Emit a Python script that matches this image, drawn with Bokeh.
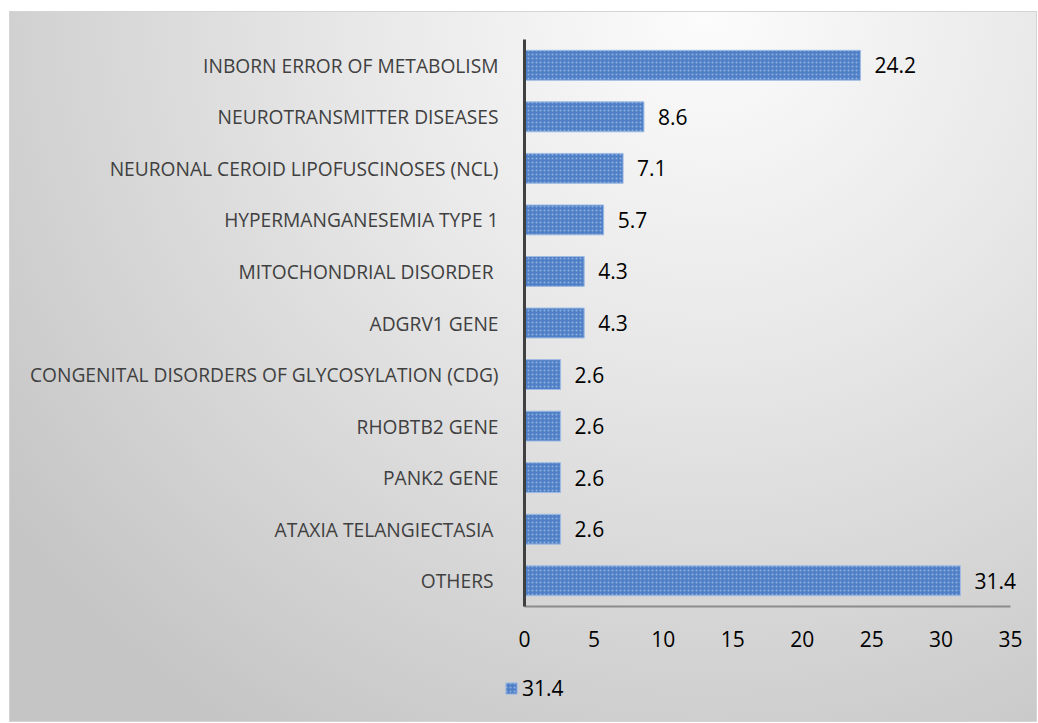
from bokeh.plotting import figure
from bokeh.models import ColumnDataSource, Range1d, Legend, LegendItem, FixedTicker
from bokeh.core.properties import value
from bokeh.embed import file_html
from bokeh.resources import INLINE

categories = [
    "INBORN ERROR OF METABOLISM",
    "NEUROTRANSMITTER DISEASES",
    "NEURONAL CEROID LIPOFUSCINOSES (NCL)",
    "HYPERMANGANESEMIA TYPE 1",
    "MITOCHONDRIAL DISORDER ",
    "ADGRV1 GENE",
    "CONGENITAL DISORDERS OF GLYCOSYLATION (CDG)",
    "RHOBTB2 GENE",
    "PANK2 GENE",
    "ATAXIA TELANGIECTASIA ",
    "OTHERS ",
]
values = [24.2, 8.6, 7.1, 5.7, 4.3, 4.3, 2.6, 2.6, 2.6, 2.6, 31.4]
value_labels = ["24.2", "8.6", "7.1", "5.7", "4.3", "4.3", "2.6", "2.6", "2.6", "2.6", "31.4"]
x_ticks = [0, 5, 10, 15, 20, 25, 30, 35]
x_max = 35
series_name = "31.4"

n = len(categories)
ypos = [n - 1 - i for i in range(n)]  # first category at top
src = ColumnDataSource(dict(y=ypos, val=values, lab=value_labels))

# ---- layout geometry (pixels, inside the figure) ----
W, H = 1026, 709
axis_px_left, axis_px_right = 514, 1000      # x = 0 and x = x_max
cat_px_top, cat_px_bottom = 27, 594          # top/bottom of the category band
xs = (axis_px_right - axis_px_left) / x_max
ys = (cat_px_bottom - cat_px_top) / n
x_start = -axis_px_left / xs
x_end = x_max + (W - axis_px_right) / xs
y_top = (n - 0.5) + cat_px_top / ys
y_bot = -0.5 - (H - cat_px_bottom) / ys

p = figure(
    width=W, height=H,
    x_range=Range1d(x_start, x_end), y_range=Range1d(y_bot, y_top),
    output_backend="svg", toolbar_location=None,
    min_border=0,
)
p.styles = {
    "margin-left": "10px",
    "margin-top": "12px",
    "background": "radial-gradient(ellipse 85% 120% at 68% 0%, #fcfcfc 0%, #e8e8e8 40%, #c5c5c5 100%)",
    "outline": "1px solid #d4d4d4",
}
p.background_fill_alpha = 0
p.border_fill_alpha = 0
p.outline_line_color = None
p.grid.visible = False

bars = p.hbar(
    y="y", right="val", height=0.58, source=src,
    fill_color="#4f7fc6", line_color="#9fbbe4", line_width=1,
    hatch_pattern="dot", hatch_color="#c9d8f0", hatch_alpha=0.55, hatch_scale=4, hatch_weight=1,
)

p.text(
    x="val", y="y", text="lab", source=src,
    x_offset=14, text_baseline="middle", text_align="left",
    text_font=value("Open Sans"), text_font_size="21px", text_color="#000000",
)

# y axis (category axis) at x = 0
p.yaxis.fixed_location = 0
p.yaxis.bounds = (-0.5, n - 0.5)
p.yaxis.ticker = FixedTicker(ticks=ypos)
p.yaxis.major_label_overrides = {yy: c for yy, c in zip(ypos, categories)}
p.yaxis.axis_line_color = "#404040"
p.yaxis.axis_line_width = 3
p.yaxis.major_tick_line_color = None
p.yaxis.minor_tick_line_color = None
p.yaxis.major_label_text_font = "Open Sans"
p.yaxis.major_label_text_font_size = "19.2px"
p.yaxis.major_label_text_color = "#404040"
p.yaxis.major_label_standoff = 20

# x axis (value axis) at the bottom of the category band
p.xaxis.fixed_location = -0.5
p.xaxis.bounds = (0, x_max)
p.xaxis.ticker = FixedTicker(ticks=x_ticks)
p.xaxis.axis_line_color = "#8c8c8c"
p.xaxis.axis_line_width = 2
p.xaxis.major_tick_line_color = None
p.xaxis.minor_tick_line_color = None
p.xaxis.major_label_text_font = "Open Sans"
p.xaxis.major_label_text_font_size = "21px"
p.xaxis.major_label_text_color = "#000000"
p.xaxis.major_label_standoff = 18

legend = Legend(
    items=[LegendItem(label=series_name, renderers=[bars])],
    location=(494, 19),
    orientation="horizontal",
    background_fill_alpha=0, border_line_color=None,
    padding=0, margin=0, spacing=0,
    glyph_width=14, glyph_height=14, label_standoff=4,
    label_text_font="Open Sans", label_text_font_size="21px", label_text_color="#000000",
)
p.add_layout(legend, "center")

open("out.html", "w").write(file_html(p, INLINE))
